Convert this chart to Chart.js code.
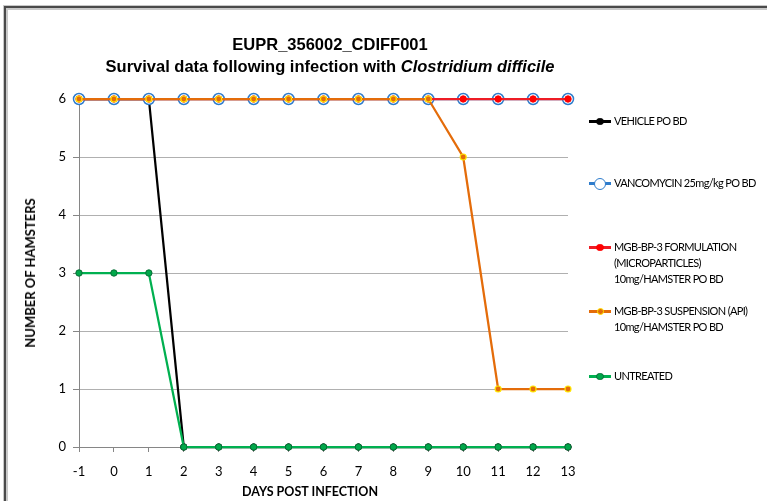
<!DOCTYPE html>
<html>
<head>
<meta charset="utf-8">
<script src="https://cdn.jsdelivr.net/npm/chart.js@4"></script>
<style>
  body { margin: 0; background: #fff; overflow: hidden; }
  #wrap { position: relative; width: 767px; height: 501px; }
  #frame { position: absolute; left: 4px; top: 6px; width: 800px; height: 600px;
    border-top: 2px solid #4a4a4a; border-left: 2px solid #4a4a4a;
    box-shadow: inset 2px 2px 0 #c8c8c8, -1px -1px 0 #c8c8c8; }
  #chart { position: absolute; left: 0; top: 0; }
  .title { position: absolute; left: 0; width: 660px; text-align: center;
    font-family: "Liberation Sans", Arial, sans-serif; font-weight: bold; font-size: 16.5px; color: #000; }
  .ax { position: absolute; font-family: Lato, sans-serif; font-weight: bold; color: #000;
    white-space: nowrap; transform: translate(-50%, -50%); }
  .leg { position: absolute; left: 589px; font-family: Lato, sans-serif; font-size: 11px;
    color: #000; line-height: 16px; letter-spacing: -0.65px; }
  .leg .smp { position: absolute; left: 0; top: 7px; width: 22px; height: 3px; }
  .leg .mk { position: absolute; border-radius: 50%; box-sizing: border-box; }
  .leg .txt { margin-left: 25px; white-space: nowrap; }
</style>
</head>
<body>
<div id="wrap">
  <div id="frame"></div>
  <canvas id="chart" width="767" height="501"></canvas>
  <div class="title" style="top:35px">EUPR_356002_CDIFF001</div>
  <div class="title" style="top:57px">Survival data following infection with <i>Clostridium difficile</i></div>
  <div class="ax" style="left:30px;top:273px;font-size:13px;transform:translate(-50%,-50%) rotate(-90deg)">NUMBER OF HAMSTERS</div>
  <div class="ax" style="left:310px;top:491px;font-size:12.5px">DAYS POST INFECTION</div>
  <div id="legend"></div>
</div>
<script>
// Días post infección
const dias = ['-1', '0', '1', '2', '3', '4', '5', '6', '7', '8', '9', '10', '11', '12', '13']

// Número de hámsters por grupo
const vehicle = [6, 6, 6, 0, 0, 0, 0, 0, 0, 0, 0, 0, 0, 0, 0]
const vancomycin = [6, 6, 6, 6, 6, 6, 6, 6, 6, 6, 6, 6, 6, 6, 6]
const formulacion = [6, 6, 6, 6, 6, 6, 6, 6, 6, 6, 6, 6, 6, 6, 6]
const suspension = [6, 6, 6, 6, 6, 6, 6, 6, 6, 6, 6, 5, 1, 1, 1]
const untreated = [3, 3, 3, 0, 0, 0, 0, 0, 0, 0, 0, 0, 0, 0, 0]

const y_ticks = [0, 1, 2, 3, 4, 5, 6]

const series = [
  { label: 'VEHICLE PO BD', data: vehicle, line: '#000000', fill: '#000000', border: '#000000', r: 3.2, bw: 1, order: 4, top: 113 },
  { label: 'VANCOMYCIN 25mg/kg PO BD', data: vancomycin, line: '#2e7ccc', fill: '#ffffff', border: '#2e7ccc', r: 5.5, bw: 1.5, order: 3, top: 175 },
  { label: 'MGB-BP-3 FORMULATION<br>(MICROPARTICLES)<br>10mg/HAMSTER PO BD', data: formulacion, line: '#ee1c25', fill: '#ff0000', border: '#ff0000', r: 3.2, bw: 1, order: 2, top: 239 },
  { label: 'MGB-BP-3 SUSPENSION (API)<br>10mg/HAMSTER PO BD', data: suspension, line: '#e46c0a', fill: '#e46c0a', border: '#ffe600', r: 3, bw: 1.2, order: 1, top: 303 },
  { label: 'UNTREATED', data: untreated, line: '#00b050', fill: '#00a84a', border: '#0a6e38', r: 3.2, bw: 1, order: 0, top: 368 },
]

// Leyenda armada a mano en HTML (texto en varias líneas)
const legend = document.getElementById('legend')
for (let s of series) {
  const d = document.createElement('div')
  d.className = 'leg'
  d.style.top = s.top + 'px'
  const size = s.r * 2 + 1
  d.innerHTML = `<div class="smp" style="background:${s.line}"></div>` +
    `<div class="mk" style="left:${11 - size / 2}px;top:${8.5 - size / 2}px;width:${size}px;height:${size}px;` +
    `background:${s.fill};border:${s.bw}px solid ${s.border}"></div>` +
    `<div class="txt">${s.label}</div>`
  legend.appendChild(d)
}

const gris_eje = '#868686'
const gris_grilla = '#b0b0b0'

new Chart(document.getElementById('chart'), {
  type: 'line',
  data: {
    labels: dias,
    datasets: series.map(s => ({
      label: s.label,
      data: s.data,
      borderColor: s.line,
      borderWidth: 2.25,
      pointBackgroundColor: s.fill,
      pointBorderColor: s.border,
      pointBorderWidth: s.bw,
      pointRadius: s.r,
      pointHoverRadius: s.r,
      order: s.order,
      tension: 0,
      clip: false
    }))
  },
  options: {
    responsive: false,
    animation: false,
    events: [],
    layout: { padding: { left: 20, top: 99, right: 199, bottom: 0 } },
    plugins: {
      legend: { display: false },
      title: { display: false },
      tooltip: { enabled: false }
    },
    scales: {
      x: {
        type: 'category',
        offset: false,
        grid: { drawOnChartArea: false, drawTicks: true, tickLength: 5, color: gris_eje },
        border: { color: gris_eje, width: 1 },
        ticks: { color: '#000', font: { family: 'Lato', size: 13 }, padding: 12, maxRotation: 0 },
        afterFit: (scale) => { scale.height = 54 }
      },
      y: {
        min: 0,
        max: 6,
        afterBuildTicks: (scale) => { scale.ticks = y_ticks.map(v => ({ value: v })) },
        grid: { color: gris_grilla, tickColor: gris_eje, tickLength: 6, lineWidth: 1 },
        border: { color: gris_eje, width: 1 },
        ticks: { color: '#000', font: { family: 'Lato', size: 13 }, padding: 7 },
        afterFit: (scale) => { scale.width = 59 }
      }
    }
  }
})
</script>
</body>
</html>
